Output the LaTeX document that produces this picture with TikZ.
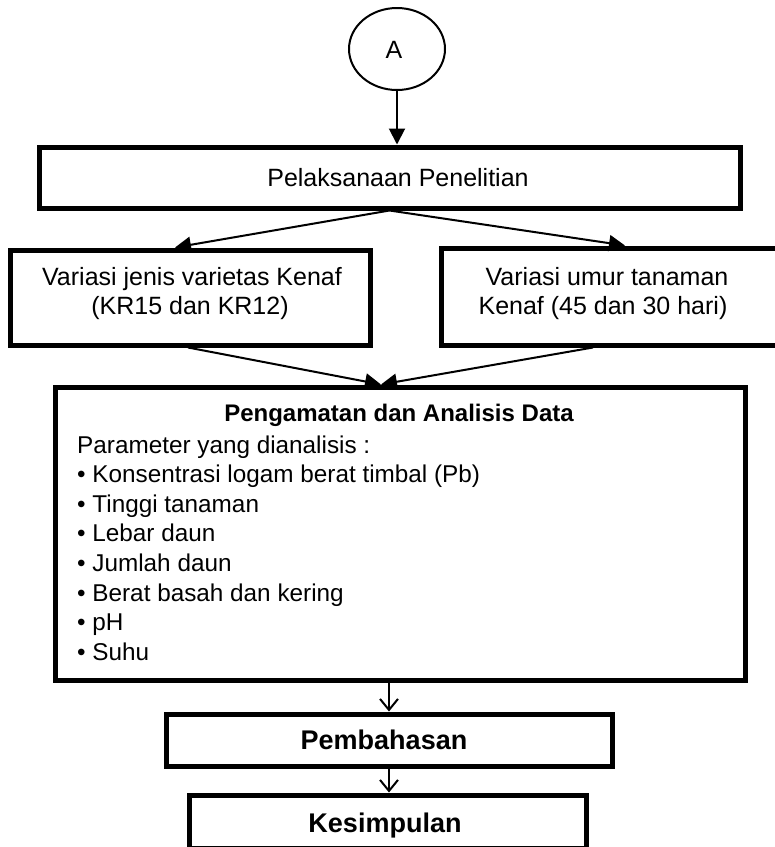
\documentclass[tikz,border=0pt]{standalone}
\usepackage{fontspec}
\setmainfont{Liberation Sans}
\usetikzlibrary{arrows.meta,shapes.geometric}
\tikzset{
  boxthick/.style={draw, line width=5pt, rectangle, inner sep=0pt},
  txt/.style={font=\fontsize{24.3}{29.6}\selectfont, inner sep=0pt},
  ttxt/.style={font=\fontsize{25}{29.6}\selectfont, inner sep=0pt},
  btxt/.style={font=\fontsize{24}{29.6}\selectfont\bfseries, inner sep=0pt},
  bbtxt/.style={font=\fontsize{27}{30}\selectfont\bfseries, inner sep=0pt},
  conn/.style={line width=2pt},
  tri/.style={conn, -{Triangle[length=16pt,width=16pt]}},
  vee/.style={conn, -{Straight Barb[length=11pt,width=18pt]}}
}
\begin{document}
\begin{tikzpicture}[x=1pt,y=-1pt]
\useasboundingbox (0,0) rectangle (775,847);
% start connector
\node[ellipse, draw, line width=2pt, minimum width=96pt, minimum height=82pt, inner sep=0pt] (A) at (397,49) {};
\node[ttxt, anchor=base] (Atxt) at (394,58) {A};
% boxes
\node[boxthick, minimum width=701pt, minimum height=61pt] (b1) at (389.5,177.5) {};
\node[ttxt, anchor=base] (b1t) at (398,186) {Pelaksanaan Penelitian};
\node[boxthick, minimum width=360pt, minimum height=95pt] (b2) at (190,297.5) {};
\node[ttxt, anchor=base] (b2a) at (192,285) {Variasi jenis varietas Kenaf};
\node[ttxt, anchor=base] (b2b) at (190,314) {(KR15 dan KR12)};
\node[boxthick, minimum width=337pt, minimum height=97pt] (b3) at (609.5,296.5) {};
\node[ttxt, anchor=base] (b3a) at (607,285) {Variasi umur tanaman};
\node[ttxt, anchor=base] (b3b) at (603,314) {Kenaf (45 dan 30 hari)};
\node[boxthick, minimum width=690pt, minimum height=293pt] (m) at (400,533.5) {};
\node[btxt, anchor=base] (mt) at (399,421.5) {Pengamatan dan Analisis Data};
\node[txt, anchor=base west] (l0) at (77,453) {Parameter yang dianalisis :};
\node[txt, anchor=base west] (l1) at (77,482.6) {• Konsentrasi logam berat timbal (Pb)};
\node[txt, anchor=base west] (l2) at (77,512.2) {• Tinggi tanaman};
\node[txt, anchor=base west] (l3) at (77,541.8) {• Lebar daun};
\node[txt, anchor=base west] (l4) at (77,571.4) {• Jumlah daun};
\node[txt, anchor=base west] (l5) at (77,601) {• Berat basah dan kering};
\node[txt, anchor=base west] (l6) at (77,630.6) {• pH};
\node[txt, anchor=base west] (l7) at (77,660.2) {• Suhu};
\node[boxthick, minimum width=446pt, minimum height=52pt] (p) at (389,740) {};
\node[bbtxt, anchor=base] (pt) at (384,749.5) {Pembahasan};
\node[boxthick, minimum width=397pt, minimum height=53pt] (k) at (387.5,821.5) {};
\node[bbtxt, anchor=base] (kt) at (385,832) {Kesimpulan};
% connectors
\coordinate (tl) at (175,0);
\coordinate (tr) at (625,0);
\coordinate (fl) at (188,0);
\coordinate (fr) at (593,0);
\coordinate (cv) at (381,0);
\coordinate (vx) at (389,0);
\draw[tri] (A.south) -- (A.south |- b1.north);
\draw[tri] (b1.south) -- (tl |- b2.north);
\draw[tri] (b1.south) -- (tr |- b3.north);
\draw[tri] (fl |- b2.south) -- (cv |- m.north);
\draw[tri] (fr |- b3.south) -- (cv |- m.north);
\draw[vee] (vx |- m.south) -- (vx |- p.north);
\draw[vee] (vx |- p.south) -- (vx |- k.north);
\end{tikzpicture}
\end{document}
